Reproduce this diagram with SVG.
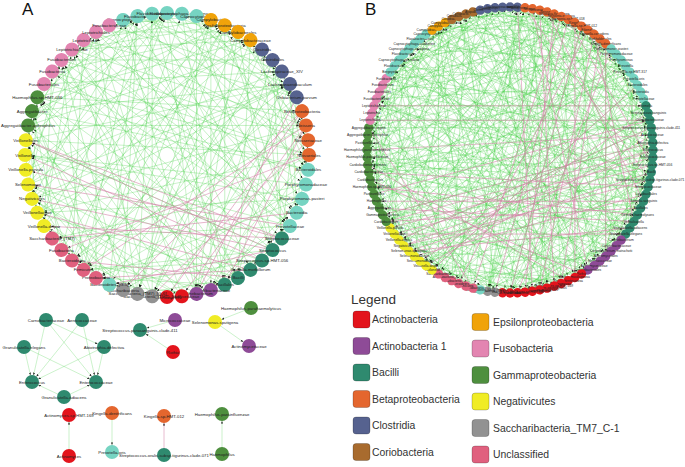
<svg xmlns="http://www.w3.org/2000/svg" xmlns:xlink="http://www.w3.org/1999/xlink" width="685" height="467" viewBox="0 0 685 467">
<style>
text{font-family:"Liberation Sans",Arial,sans-serif;fill:#222}
.A text,.S text{font-size:4.3px;text-anchor:middle;dominant-baseline:central}
.B text{font-size:3.3px;text-anchor:middle;dominant-baseline:central}
.ttl{font-size:17px;fill:#111}
.lg text{font-size:10.4px;fill:#333;dominant-baseline:central}
.lg .lt{font-size:13.5px}
.lg rect{stroke:#0000004d;stroke-width:.7}
.ac{fill:#e3141c}.a1{fill:#8e4b97}.ba{fill:#2f8a6f}.be{fill:#e4662e}.cl{fill:#56628f}.co{fill:#a86b2e}
.ep{fill:#f0a30a}.fu{fill:#e385b1}.ga{fill:#4e8f3e}.ne{fill:#f0ec25}.sa{fill:#929292}.un{fill:#e0607e}.bt{fill:#76d4c2}
.gr{stroke:#3fcf3f;stroke-opacity:.45;stroke-width:.6;fill:none}
.pk{stroke:#d47fa6;stroke-opacity:.75;stroke-width:.7;fill:none}
</style>
<defs>
<marker id="ar" markerUnits="userSpaceOnUse" markerWidth="4" markerHeight="3" refX="9.6" refY="1" orient="auto"><path d="M0 0L2.6 1L0 2z" fill="#1a1a1a"/></marker>
<marker id="arb" markerUnits="userSpaceOnUse" markerWidth="4" markerHeight="3" refX="7.6" refY=".85" orient="auto"><path d="M0 0L2.2 .85L0 1.7z" fill="#1a1a1a"/></marker>
<line id="s6" y1="-142" x2="14.84" y2="-141.22"/>
<line id="s12" y1="-142" x2="29.52" y2="-138.9"/>
<line id="s18" y1="-142" x2="43.88" y2="-135.05"/>
<line id="s24" y1="-142" x2="57.76" y2="-129.72"/>
<line id="s30" y1="-142" x2="71" y2="-122.98"/>
<line id="s36" y1="-142" x2="83.47" y2="-114.88"/>
<line id="s42" y1="-142" x2="95.02" y2="-105.53"/>
<line id="s48" y1="-142" x2="105.53" y2="-95.02"/>
<line id="s54" y1="-142" x2="114.88" y2="-83.47"/>
<line id="s60" y1="-142" x2="122.98" y2="-71"/>
<line id="s66" y1="-142" x2="129.72" y2="-57.76"/>
<line id="s72" y1="-142" x2="135.05" y2="-43.88"/>
<line id="s78" y1="-142" x2="138.9" y2="-29.52"/>
<line id="s84" y1="-142" x2="141.22" y2="-14.84"/>
<line id="s90" y1="-142" x2="142" y2="0"/>
<line id="s96" y1="-142" x2="141.22" y2="14.84"/>
<line id="s102" y1="-142" x2="138.9" y2="29.52"/>
<line id="s108" y1="-142" x2="135.05" y2="43.88"/>
<line id="s114" y1="-142" x2="129.72" y2="57.76"/>
<line id="s120" y1="-142" x2="122.98" y2="71"/>
<line id="s126" y1="-142" x2="114.88" y2="83.47"/>
<line id="s132" y1="-142" x2="105.53" y2="95.02"/>
<line id="s138" y1="-142" x2="95.02" y2="105.53"/>
<line id="s144" y1="-142" x2="83.47" y2="114.88"/>
<line id="s150" y1="-142" x2="71" y2="122.98"/>
<line id="s156" y1="-142" x2="57.76" y2="129.72"/>
<line id="s162" y1="-142" x2="43.88" y2="135.05"/>
<line id="s168" y1="-142" x2="29.52" y2="138.9"/>
<line id="s171" y1="-142" x2="22.21" y2="140.25"/>
<line id="s174" y1="-142" x2="14.84" y2="141.22"/>
<line id="s177" y1="-142" x2="7.43" y2="141.81"/>
<g id="GA"><use href="#s42"/><use href="#s96"/><use href="#s132"/><use href="#s168"/></g>
<g id="GB"><use href="#s24"/><use href="#s60"/><use href="#s114"/><use href="#s150"/></g>
<g id="GC"><use href="#s78"/><use href="#s120"/><use href="#s156"/><use href="#s66"/></g>
<g id="GD"><use href="#s36"/><use href="#s84"/><use href="#s144"/><use href="#s174"/></g>
<g id="GE"><use href="#s54"/><use href="#s102"/><use href="#s138"/><use href="#s162"/></g>
</defs>
<rect width="685" height="467" fill="#fff"/>
<text class="ttl" x="22" y="15">A</text>
<text class="ttl" x="365" y="15">B</text>

<g id="connectors">
<g id="edgesA" transform="translate(167 155)">
<g class="gr" marker-end="url(#ar)">
<use href="#GA" transform="rotate(0)"/><use href="#GA" transform="rotate(24)"/><use href="#GA" transform="rotate(54)"/><use href="#GA" transform="rotate(102)"/><use href="#GA" transform="rotate(150)"/><use href="#GA" transform="rotate(186)"/><use href="#GA" transform="rotate(216)"/><use href="#GA" transform="rotate(252)"/><use href="#GA" transform="rotate(288)"/><use href="#GA" transform="rotate(312)"/><use href="#GA" transform="rotate(342)"/>
<use href="#GB" transform="rotate(6)"/><use href="#GB" transform="rotate(36)"/><use href="#GB" transform="rotate(66)"/><use href="#GB" transform="rotate(120)"/><use href="#GB" transform="rotate(162)"/><use href="#GB" transform="rotate(198)"/><use href="#GB" transform="rotate(228)"/><use href="#GB" transform="rotate(264)"/><use href="#GB" transform="rotate(300)"/><use href="#GB" transform="rotate(330)"/>
<use href="#GC" transform="rotate(12)"/><use href="#GC" transform="rotate(48)"/><use href="#GC" transform="rotate(90)"/><use href="#GC" transform="rotate(138)"/><use href="#GC" transform="rotate(174)"/><use href="#GC" transform="rotate(210)"/><use href="#GC" transform="rotate(240)"/><use href="#GC" transform="rotate(282)"/><use href="#GC" transform="rotate(318)"/><use href="#GC" transform="rotate(348)"/>
<use href="#GD" transform="rotate(18)"/><use href="#GD" transform="rotate(42)"/><use href="#GD" transform="rotate(78)"/><use href="#GD" transform="rotate(132)"/><use href="#GD" transform="rotate(168)"/><use href="#GD" transform="rotate(204)"/><use href="#GD" transform="rotate(246)"/><use href="#GD" transform="rotate(276)"/><use href="#GD" transform="rotate(306)"/><use href="#GD" transform="rotate(336)"/>
<use href="#GE" transform="rotate(30)"/><use href="#GE" transform="rotate(60)"/><use href="#GE" transform="rotate(108)"/><use href="#GE" transform="rotate(156)"/><use href="#GE" transform="rotate(192)"/><use href="#GE" transform="rotate(222)"/><use href="#GE" transform="rotate(258)"/><use href="#GE" transform="rotate(294)"/><use href="#GE" transform="rotate(324)"/><use href="#GE" transform="rotate(354)"/>
</g>
<g class="pk" marker-end="url(#ar)">
<use href="#s150" transform="rotate(126)"/><use href="#s144" transform="rotate(132)"/><use href="#s132" transform="rotate(138)"/><use href="#s138" transform="rotate(126)"/><use href="#s138" transform="rotate(120)"/><use href="#s120" transform="rotate(132)"/><use href="#s102" transform="rotate(144)"/><use href="#s114" transform="rotate(126)"/><use href="#s120" transform="rotate(114)"/><use href="#s108" transform="rotate(72)"/><use href="#s96" transform="rotate(78)"/><use href="#s102" transform="rotate(84)"/><use href="#s126" transform="rotate(72)"/><use href="#s138" transform="rotate(78)"/><use href="#s138" transform="rotate(90)"/><use href="#s102" transform="rotate(66)"/><use href="#s66" transform="rotate(144)"/><use href="#s72" transform="rotate(150)"/><use href="#s72" transform="rotate(132)"/><use href="#s78" transform="rotate(78)"/>
</g>
</g>

<g id="edgesB" transform="translate(510 150) scale(1.007)">
<g class="gr" marker-end="url(#arb)">
<use href="#GA" transform="rotate(0)"/><use href="#GA" transform="rotate(21)"/><use href="#GA" transform="rotate(48)"/><use href="#GA" transform="rotate(72)"/><use href="#GA" transform="rotate(99)"/><use href="#GA" transform="rotate(123)"/><use href="#GA" transform="rotate(147)"/><use href="#GA" transform="rotate(171)"/><use href="#GA" transform="rotate(195)"/><use href="#GA" transform="rotate(216)"/><use href="#GA" transform="rotate(243)"/><use href="#GA" transform="rotate(267)"/><use href="#GA" transform="rotate(291)"/><use href="#GA" transform="rotate(315)"/><use href="#GA" transform="rotate(339)"/><use href="#GA" transform="rotate(12)"/><use href="#GA" transform="rotate(42)"/><use href="#GA" transform="rotate(93)"/><use href="#GA" transform="rotate(144)"/><use href="#GA" transform="rotate(198)"/><use href="#GA" transform="rotate(249)"/><use href="#GA" transform="rotate(297)"/><use href="#GA" transform="rotate(318)"/><use href="#GA" transform="rotate(345)"/>
<use href="#GB" transform="rotate(6)"/><use href="#GB" transform="rotate(30)"/><use href="#GB" transform="rotate(57)"/><use href="#GB" transform="rotate(81)"/><use href="#GB" transform="rotate(105)"/><use href="#GB" transform="rotate(132)"/><use href="#GB" transform="rotate(153)"/><use href="#GB" transform="rotate(180)"/><use href="#GB" transform="rotate(201)"/><use href="#GB" transform="rotate(228)"/><use href="#GB" transform="rotate(252)"/><use href="#GB" transform="rotate(276)"/><use href="#GB" transform="rotate(300)"/><use href="#GB" transform="rotate(324)"/><use href="#GB" transform="rotate(348)"/><use href="#GB" transform="rotate(18)"/><use href="#GB" transform="rotate(63)"/><use href="#GB" transform="rotate(114)"/><use href="#GB" transform="rotate(159)"/><use href="#GB" transform="rotate(222)"/><use href="#GB" transform="rotate(270)"/><use href="#GB" transform="rotate(294)"/><use href="#GB" transform="rotate(342)"/>
<use href="#GC" transform="rotate(9)"/><use href="#GC" transform="rotate(33)"/><use href="#GC" transform="rotate(60)"/><use href="#GC" transform="rotate(87)"/><use href="#GC" transform="rotate(111)"/><use href="#GC" transform="rotate(135)"/><use href="#GC" transform="rotate(162)"/><use href="#GC" transform="rotate(186)"/><use href="#GC" transform="rotate(210)"/><use href="#GC" transform="rotate(234)"/><use href="#GC" transform="rotate(258)"/><use href="#GC" transform="rotate(282)"/><use href="#GC" transform="rotate(306)"/><use href="#GC" transform="rotate(330)"/><use href="#GC" transform="rotate(354)"/>
<use href="#GD" transform="rotate(15)"/><use href="#GD" transform="rotate(39)"/><use href="#GD" transform="rotate(66)"/><use href="#GD" transform="rotate(90)"/><use href="#GD" transform="rotate(117)"/><use href="#GD" transform="rotate(141)"/><use href="#GD" transform="rotate(165)"/><use href="#GD" transform="rotate(189)"/><use href="#GD" transform="rotate(219)"/><use href="#GD" transform="rotate(240)"/><use href="#GD" transform="rotate(264)"/><use href="#GD" transform="rotate(288)"/><use href="#GD" transform="rotate(309)"/><use href="#GD" transform="rotate(333)"/><use href="#GD" transform="rotate(357)"/>
<use href="#GE" transform="rotate(3)"/><use href="#GE" transform="rotate(27)"/><use href="#GE" transform="rotate(51)"/><use href="#GE" transform="rotate(78)"/><use href="#GE" transform="rotate(102)"/><use href="#GE" transform="rotate(126)"/><use href="#GE" transform="rotate(156)"/><use href="#GE" transform="rotate(177)"/><use href="#GE" transform="rotate(204)"/><use href="#GE" transform="rotate(231)"/><use href="#GE" transform="rotate(255)"/><use href="#GE" transform="rotate(279)"/><use href="#GE" transform="rotate(303)"/><use href="#GE" transform="rotate(327)"/><use href="#GE" transform="rotate(351)"/>
<use href="#s177" transform="rotate(12)"/><use href="#s177" transform="rotate(72)"/><use href="#s177" transform="rotate(132)"/><use href="#s177" transform="rotate(201)"/><use href="#s177" transform="rotate(261)"/><use href="#s177" transform="rotate(321)"/>
<use href="#s171" transform="rotate(39)"/><use href="#s171" transform="rotate(102)"/><use href="#s171" transform="rotate(159)"/><use href="#s171" transform="rotate(228)"/><use href="#s171" transform="rotate(288)"/><use href="#s171" transform="rotate(348)"/>
</g>
<g class="pk" marker-end="url(#arb)">
<use href="#s150" transform="rotate(90)"/><use href="#s138" transform="rotate(96)"/><use href="#s126" transform="rotate(102)"/><use href="#s114" transform="rotate(108)"/><use href="#s144" transform="rotate(75)"/><use href="#s150" transform="rotate(81)"/><use href="#s156" transform="rotate(87)"/><use href="#s138" transform="rotate(111)"/><use href="#s138" transform="rotate(117)"/><use href="#s126" transform="rotate(99)"/><use href="#s132" transform="rotate(84)"/><use href="#s144" transform="rotate(93)"/><use href="#s126" transform="rotate(120)"/><use href="#s156" transform="rotate(105)"/><use href="#s174" transform="rotate(78)"/>
<use href="#s150" transform="rotate(12)"/><use href="#s156" transform="rotate(18)"/><use href="#s162" transform="rotate(24)"/><use href="#s150" transform="rotate(30)"/><use href="#s132" transform="rotate(36)"/><use href="#s174" transform="rotate(21)"/><use href="#s126" transform="rotate(27)"/><use href="#s168" transform="rotate(33)"/><use href="#s120" transform="rotate(39)"/>
<use href="#s96" transform="rotate(15)"/><use href="#s72" transform="rotate(24)"/><use href="#s84" transform="rotate(36)"/><use href="#s96" transform="rotate(42)"/><use href="#s96" transform="rotate(6)"/>
<use href="#s108" transform="rotate(150)"/><use href="#s108" transform="rotate(156)"/><use href="#s84" transform="rotate(195)"/>
<use href="#s144" transform="rotate(288)"/><use href="#s174" transform="rotate(270)"/><use href="#s156" transform="rotate(282)"/>
<use href="#s126" transform="rotate(114)"/><use href="#s102" transform="rotate(123)"/><use href="#s108" transform="rotate(126)"/><use href="#s138" transform="rotate(90)"/><use href="#s168" transform="rotate(3)"/><use href="#s138" transform="rotate(9)"/><use href="#s132" transform="rotate(45)"/><use href="#s150" transform="rotate(63)"/>
</g>
</g>

<g id="edgesS" marker-end="url(#ar)">
<g class="gr" stroke-opacity=".8">
<line x1="46" y1="320" x2="104" y2="347"/><line x1="46" y1="320" x2="96" y2="382"/><line x1="46" y1="320" x2="32" y2="382"/>
<line x1="82" y1="320" x2="32" y2="382"/><line x1="82" y1="320" x2="96" y2="382"/>
<line x1="24" y1="347" x2="32" y2="382"/><line x1="24" y1="347" x2="96" y2="382"/>
<line x1="104" y1="347" x2="32" y2="382"/><line x1="104" y1="347" x2="96" y2="382"/>
<line x1="64" y1="397" x2="32" y2="382"/><line x1="64" y1="397" x2="96" y2="382"/>
<line x1="175" y1="320" x2="140" y2="330"/><line x1="173" y1="352" x2="140" y2="330"/>
<line x1="251" y1="308" x2="215" y2="322"/><line x1="215" y1="322" x2="249" y2="346"/>
<line x1="69" y1="456" x2="69" y2="415"/><line x1="112" y1="413" x2="112" y2="452"/>
<line x1="222" y1="454" x2="222" y2="414"/>
</g>
<line class="pk" x1="164" y1="455" x2="164" y2="416"/>
</g>
</g>

<g id="nodesA" class="A">
<g id="a342" transform="rotate(342 167 155)"><circle class="bt" cx="167" cy="13" r="7"/><text transform="translate(167 13)rotate(-342)">Capnocytophaga</text></g>
<g id="a348" transform="rotate(348 167 155)"><circle class="bt" cx="167" cy="13" r="7"/><text transform="translate(167 13)rotate(-348)">Flavobacteriia</text></g>
<g id="a354" transform="rotate(354 167 155)"><circle class="bt" cx="167" cy="13" r="7"/><text transform="translate(167 13)rotate(-354)">Flavobacteriales</text></g>
<g id="a0"><circle class="bt" cx="167" cy="13" r="7"/><text transform="translate(167 13)">Flavobacteriaceae</text></g>
<g id="a6" transform="rotate(6 167 155)"><circle class="bt" cx="167" cy="13" r="7"/><text transform="translate(167 13)rotate(-6)">Capnocytophaga-sputigena</text></g>
<g id="a12" transform="rotate(12 167 155)"><circle class="bt" cx="167" cy="13" r="7"/><text transform="translate(167 13)rotate(-12)">Capnocytophaga</text></g>
<g id="a18" transform="rotate(18 167 155)"><circle class="ep" cx="167" cy="13" r="7"/><text transform="translate(167 13)rotate(-18)">Campylobacter</text></g>
<g id="a24" transform="rotate(24 167 155)"><circle class="ep" cx="167" cy="13" r="7"/><text transform="translate(167 13)rotate(-24)">Epsilonproteobacteria</text></g>
<g id="a30" transform="rotate(30 167 155)"><circle class="ep" cx="167" cy="13" r="7"/><text transform="translate(167 13)rotate(-30)">Campylobacterales</text></g>
<g id="a36" transform="rotate(36 167 155)"><circle class="ep" cx="167" cy="13" r="7"/><text transform="translate(167 13)rotate(-36)">Campylobacteraceae</text></g>
<g id="a42" transform="rotate(42 167 155)"><circle class="cl" cx="167" cy="13" r="7"/><text transform="translate(167 13)rotate(-42)">Clostridia</text></g>
<g id="a48" transform="rotate(48 167 155)"><circle class="cl" cx="167" cy="13" r="7"/><text transform="translate(167 13)rotate(-48)">Clostridiales</text></g>
<g id="a54" transform="rotate(54 167 155)"><circle class="cl" cx="167" cy="13" r="7"/><text transform="translate(167 13)rotate(-54)">Lachnospiraceae_XIV</text></g>
<g id="a60" transform="rotate(60 167 155)"><circle class="cl" cx="167" cy="13" r="7"/><text transform="translate(167 13)rotate(-60)">Lachnoanaerobaculum</text></g>
<g id="a66" transform="rotate(66 167 155)"><circle class="cl" cx="167" cy="13" r="7"/><text transform="translate(167 13)rotate(-66)">Oribacterium-parvum</text></g>
<g id="a72" transform="rotate(72 167 155)"><circle class="be" cx="167" cy="13" r="7"/><text transform="translate(167 13)rotate(-72)">Betaproteobacteria</text></g>
<g id="a78" transform="rotate(78 167 155)"><circle class="be" cx="167" cy="13" r="7"/><text transform="translate(167 13)rotate(-78)">Neisseria</text></g>
<g id="a84" transform="rotate(84 167 155)"><circle class="be" cx="167" cy="13" r="7"/><text transform="translate(167 13)rotate(-84)">Neisseriaceae</text></g>
<g id="a90" transform="rotate(90 167 155)"><circle class="be" cx="167" cy="13" r="7"/><text transform="translate(167 13)rotate(-90)">Neisseriales</text></g>
<g id="a96" transform="rotate(96 167 155)"><circle class="bt" cx="167" cy="13" r="7"/><text transform="translate(167 13)rotate(-96)">Bacteroidales</text></g>
<g id="a102" transform="rotate(102 167 155)"><circle class="bt" cx="167" cy="13" r="7"/><text transform="translate(167 13)rotate(-102)">Porphyromonadaceae</text></g>
<g id="a108" transform="rotate(108 167 155)"><circle class="bt" cx="167" cy="13" r="7"/><text transform="translate(167 13)rotate(-108)">Porphyromonas-pasteri</text></g>
<g id="a114" transform="rotate(114 167 155)"><circle class="bt" cx="167" cy="13" r="7"/><text transform="translate(167 13)rotate(-114)">Bacteroidia</text></g>
<g id="a120" transform="rotate(120 167 155)"><circle class="bt" cx="167" cy="13" r="7"/><text transform="translate(167 13)rotate(-120)">Prevotellaceae</text></g>
<g id="a126" transform="rotate(126 167 155)"><circle class="ba" cx="167" cy="13" r="7"/><text transform="translate(167 13)rotate(-126)">Streptococcaceae</text></g>
<g id="a132" transform="rotate(132 167 155)"><circle class="ba" cx="167" cy="13" r="7"/><text transform="translate(167 13)rotate(-132)">Streptococcus</text></g>
<g id="a138" transform="rotate(138 167 155)"><circle class="ba" cx="167" cy="13" r="7"/><text transform="translate(167 13)rotate(-138)">Streptococcus-sp-HMT-056</text></g>
<g id="a144" transform="rotate(144 167 155)"><circle class="ba" cx="167" cy="13" r="7"/><text transform="translate(167 13)rotate(-144)">Gemella-morbillorum</text></g>
<g id="a150" transform="rotate(150 167 155)"><circle class="ba" cx="167" cy="13" r="7"/><text transform="translate(167 13)rotate(-150)">Bacilli</text></g>
<g id="a156" transform="rotate(156 167 155)"><circle class="ba" cx="167" cy="13" r="7"/><text transform="translate(167 13)rotate(-156)">Bacillales</text></g>
<g id="a162" transform="rotate(162 167 155)"><circle class="a1" cx="167" cy="13" r="7"/><text transform="translate(167 13)rotate(-162)">Corynebacteriaceae</text></g>
<g id="a168" transform="rotate(168 167 155)"><circle class="a1" cx="167" cy="13" r="7"/><text transform="translate(167 13)rotate(-168)">Corynebacterium</text></g>
<g id="a174" transform="rotate(174 167 155)"><circle class="ac" cx="167" cy="13" r="7"/><text transform="translate(167 13)rotate(-174)">Actinomycetaceae</text></g>
<g id="a180" transform="rotate(180 167 155)"><circle class="ac" cx="167" cy="13" r="7"/><text transform="translate(167 13)rotate(-180)">Actinomyces</text></g>
<g id="a186" transform="rotate(186 167 155)"><circle class="sa" cx="167" cy="13" r="7"/><text transform="translate(167 13)rotate(-186)">Saccharibacteria_(TM7)_[G-1]</text></g>
<g id="a192" transform="rotate(192 167 155)"><circle class="sa" cx="167" cy="13" r="7"/><text transform="translate(167 13)rotate(-192)">Saccharibacteria_(TM7)_[G-6]</text></g>
<g id="a198" transform="rotate(198 167 155)"><circle class="sa" cx="167" cy="13" r="7"/><text transform="translate(167 13)rotate(-198)">Saccharibacteria</text></g>
<g id="a204" transform="rotate(204 167 155)"><circle class="bt" cx="167" cy="13" r="7"/><text transform="translate(167 13)rotate(-204)">Bacteroidetes_[G-5]</text></g>
<g id="a210" transform="rotate(210 167 155)"><circle class="un" cx="167" cy="13" r="7"/><text transform="translate(167 13)rotate(-210)">Proteobacteria</text></g>
<g id="a216" transform="rotate(216 167 155)"><circle class="un" cx="167" cy="13" r="7"/><text transform="translate(167 13)rotate(-216)">Firmicutes</text></g>
<g id="a222" transform="rotate(222 167 155)"><circle class="un" cx="167" cy="13" r="7"/><text transform="translate(167 13)rotate(-222)">Bacteroidetes</text></g>
<g id="a228" transform="rotate(228 167 155)"><circle class="un" cx="167" cy="13" r="7"/><text transform="translate(167 13)rotate(-228)">Fusobacteria</text></g>
<g id="a234" transform="rotate(234 167 155)"><circle class="un" cx="167" cy="13" r="7"/><text transform="translate(167 13)rotate(-234)">Saccharibacteria_(TM7)</text></g>
<g id="a240" transform="rotate(240 167 155)"><circle class="ne" cx="167" cy="13" r="7"/><text transform="translate(167 13)rotate(-240)">Veillonella-dispar</text></g>
<g id="a246" transform="rotate(246 167 155)"><circle class="ne" cx="167" cy="13" r="7"/><text transform="translate(167 13)rotate(-246)">Veillonellaceae</text></g>
<g id="a252" transform="rotate(252 167 155)"><circle class="ne" cx="167" cy="13" r="7"/><text transform="translate(167 13)rotate(-252)">Negativicutes</text></g>
<g id="a258" transform="rotate(258 167 155)"><circle class="ne" cx="167" cy="13" r="7"/><text transform="translate(167 13)rotate(-258)">Selenomonas</text></g>
<g id="a264" transform="rotate(264 167 155)"><circle class="ne" cx="167" cy="13" r="7"/><text transform="translate(167 13)rotate(-264)">Veillonella-parvula</text></g>
<g id="a270" transform="rotate(270 167 155)"><circle class="ne" cx="167" cy="13" r="7"/><text transform="translate(167 13)rotate(-270)">Veillonella</text></g>
<g id="a276" transform="rotate(276 167 155)"><circle class="ne" cx="167" cy="13" r="7"/><text transform="translate(167 13)rotate(-276)">Veillonellales</text></g>
<g id="a282" transform="rotate(282 167 155)"><circle class="ga" cx="167" cy="13" r="7"/><text transform="translate(167 13)rotate(-282)">Aggregatibacter-aphrophilus</text></g>
<g id="a288" transform="rotate(288 167 155)"><circle class="ga" cx="167" cy="13" r="7"/><text transform="translate(167 13)rotate(-288)">Aggregatibacter</text></g>
<g id="a294" transform="rotate(294 167 155)"><circle class="ga" cx="167" cy="13" r="7"/><text transform="translate(167 13)rotate(-294)">Haemophilus-sp-HMT-036</text></g>
<g id="a300" transform="rotate(300 167 155)"><circle class="fu" cx="167" cy="13" r="7"/><text transform="translate(167 13)rotate(-300)">Fusobacteriales</text></g>
<g id="a306" transform="rotate(306 167 155)"><circle class="fu" cx="167" cy="13" r="7"/><text transform="translate(167 13)rotate(-306)">Fusobacteriia</text></g>
<g id="a312" transform="rotate(312 167 155)"><circle class="fu" cx="167" cy="13" r="7"/><text transform="translate(167 13)rotate(-312)">Fusobacterium</text></g>
<g id="a318" transform="rotate(318 167 155)"><circle class="fu" cx="167" cy="13" r="7"/><text transform="translate(167 13)rotate(-318)">Leptotrichiaceae</text></g>
<g id="a324" transform="rotate(324 167 155)"><circle class="fu" cx="167" cy="13" r="7"/><text transform="translate(167 13)rotate(-324)">Leptotrichia</text></g>
<g id="a330" transform="rotate(330 167 155)"><circle class="fu" cx="167" cy="13" r="7"/><text transform="translate(167 13)rotate(-330)">Leptotrichiales</text></g>
<g id="a336" transform="rotate(336 167 155)"><circle class="fu" cx="167" cy="13" r="7"/><text transform="translate(167 13)rotate(-336)">Fusobacteriaceae</text></g>
</g>

<g id="nodesS" class="S">
<g id="s-carno"><circle class="ba" cx="46" cy="320" r="7"/><text x="46" y="320">Carnobacteriaceae</text></g>
<g id="s-aero"><circle class="ba" cx="82" cy="320" r="7"/><text x="82" y="320">Aerococcaceae</text></g>
<g id="s-gele"><circle class="ba" cx="24" cy="347" r="7"/><text x="24" y="347">Granulicatella-elegans</text></g>
<g id="s-abio"><circle class="ba" cx="104" cy="347" r="7"/><text x="104" y="347">Abiotrophia-defectiva</text></g>
<g id="s-entc"><circle class="ba" cx="32" cy="382" r="7"/><text x="32" y="382">Enterococcus</text></g>
<g id="s-entf"><circle class="ba" cx="96" cy="382" r="7"/><text x="96" y="382">Enterococcaceae</text></g>
<g id="s-gadi"><circle class="ba" cx="64" cy="397" r="7"/><text x="64" y="397">Granulicatella-adiacens</text></g>
<g id="s-spar"><circle class="ba" cx="140" cy="330" r="7"/><text x="140" y="330">Streptococcus-parasanguinis-clade-411</text></g>
<g id="s-micr"><circle class="a1" cx="175" cy="320" r="7"/><text x="175" y="320">Micrococcaceae</text></g>
<g id="s-roth"><circle class="ac" cx="173" cy="352" r="7"/><text x="173" y="352">Rothia</text></g>
<g id="s-hpar"><circle class="ga" cx="251" cy="308" r="7"/><text x="251" y="308">Haemophilus-parahaemolyticus</text></g>
<g id="s-sels"><circle class="ne" cx="215" cy="322" r="7"/><text x="215" y="322">Selenomonas-sputigena</text></g>
<g id="s-actf"><circle class="a1" cx="249" cy="346" r="7"/><text x="249" y="346">Actinomycetaceae</text></g>
<g id="s-a169"><circle class="ac" cx="69" cy="415" r="7"/><text x="69" y="415">Actinomyces-sp-HMT-169</text></g>
<g id="s-acty"><circle class="ac" cx="69" cy="456" r="7"/><text x="69" y="456">Actinomyces</text></g>
<g id="s-kden"><circle class="be" cx="112" cy="413" r="7"/><text x="112" y="413">Kingella-denitrificans</text></g>
<g id="s-pori"><circle class="bt" cx="112" cy="452" r="7"/><text x="112" y="452">Prevotella-oris</text></g>
<g id="s-k012"><circle class="be" cx="164" cy="416" r="7"/><text x="164" y="416">Kingella-sp-HMT-012</text></g>
<g id="s-sora"><circle class="ba" cx="164" cy="455" r="7"/><text x="164" y="455">Streptococcus-oralis-subsp-tigurinus-clade-071</text></g>
<g id="s-hpin"><circle class="ga" cx="222" cy="414" r="7"/><text x="222" y="414">Haemophilus-parainfluenzae</text></g>
<g id="s-haem"><circle class="ga" cx="222" cy="454" r="7"/><text x="222" y="454">Haemophilus</text></g>
</g>

<g id="nodesB" class="B">
<g id="b0"><circle class="cl" cx="510" cy="7" r="4.7"/><text transform="translate(510 7)">Lachnoanaerobaculum</text></g>
<g id="b3" transform="rotate(3 510 150)"><circle class="cl" cx="510" cy="7" r="4.7"/><text transform="translate(510 7)rotate(-3)">Oribacterium-parvum</text></g>
<g id="b6" transform="rotate(6 510 150)"><circle class="be" cx="510" cy="7" r="4.7"/><text transform="translate(510 7)rotate(-6)">Betaproteobacteria</text></g>
<g id="b9" transform="rotate(9 510 150)"><circle class="be" cx="510" cy="7" r="4.7"/><text transform="translate(510 7)rotate(-9)">Neisseriales</text></g>
<g id="b12" transform="rotate(12 510 150)"><circle class="be" cx="510" cy="7" r="4.7"/><text transform="translate(510 7)rotate(-12)">Neisseriaceae</text></g>
<g id="b15" transform="rotate(15 510 150)"><circle class="be" cx="510" cy="7" r="4.7"/><text transform="translate(510 7)rotate(-15)">Neisseria</text></g>
<g id="b18" transform="rotate(18 510 150)"><circle class="be" cx="510" cy="7" r="4.7"/><text transform="translate(510 7)rotate(-18)">Neisseria-flavescens</text></g>
<g id="b21" transform="rotate(21 510 150)"><circle class="be" cx="510" cy="7" r="4.7"/><text transform="translate(510 7)rotate(-21)">Neisseria-subflava</text></g>
<g id="b24" transform="rotate(24 510 150)"><circle class="be" cx="510" cy="7" r="4.7"/><text transform="translate(510 7)rotate(-24)">Neisseria-sp-HMT-018</text></g>
<g id="b27" transform="rotate(27 510 150)"><circle class="be" cx="510" cy="7" r="4.7"/><text transform="translate(510 7)rotate(-27)">Kingella</text></g>
<g id="b30" transform="rotate(30 510 150)"><circle class="be" cx="510" cy="7" r="4.7"/><text transform="translate(510 7)rotate(-30)">Kingella-sp-HMT-012</text></g>
<g id="b33" transform="rotate(33 510 150)"><circle class="be" cx="510" cy="7" r="4.7"/><text transform="translate(510 7)rotate(-33)">Eikenella</text></g>
<g id="b36" transform="rotate(36 510 150)"><circle class="be" cx="510" cy="7" r="4.7"/><text transform="translate(510 7)rotate(-36)">Eikenella-corrodens</text></g>
<g id="b39" transform="rotate(39 510 150)"><circle class="be" cx="510" cy="7" r="4.7"/><text transform="translate(510 7)rotate(-39)">Burkholderiales</text></g>
<g id="b42" transform="rotate(42 510 150)"><circle class="be" cx="510" cy="7" r="4.7"/><text transform="translate(510 7)rotate(-42)">Kingella-denitrificans</text></g>
<g id="b45" transform="rotate(45 510 150)"><circle class="bt" cx="510" cy="7" r="4.7"/><text transform="translate(510 7)rotate(-45)">Porphyromonas-pasteri</text></g>
<g id="b48" transform="rotate(48 510 150)"><circle class="bt" cx="510" cy="7" r="4.7"/><text transform="translate(510 7)rotate(-48)">Porphyromonadaceae</text></g>
<g id="b51" transform="rotate(51 510 150)"><circle class="bt" cx="510" cy="7" r="4.7"/><text transform="translate(510 7)rotate(-51)">Porphyromonas</text></g>
<g id="b54" transform="rotate(54 510 150)"><circle class="bt" cx="510" cy="7" r="4.7"/><text transform="translate(510 7)rotate(-54)">Prevotella</text></g>
<g id="b57" transform="rotate(57 510 150)"><circle class="bt" cx="510" cy="7" r="4.7"/><text transform="translate(510 7)rotate(-57)">Prevotella-sp-HMT-317</text></g>
<g id="b60" transform="rotate(60 510 150)"><circle class="bt" cx="510" cy="7" r="4.7"/><text transform="translate(510 7)rotate(-60)">Prevotella-oris</text></g>
<g id="b63" transform="rotate(63 510 150)"><circle class="bt" cx="510" cy="7" r="4.7"/><text transform="translate(510 7)rotate(-63)">Bacteroidales</text></g>
<g id="b66" transform="rotate(66 510 150)"><circle class="bt" cx="510" cy="7" r="4.7"/><text transform="translate(510 7)rotate(-66)">Bacteroidia</text></g>
<g id="b69" transform="rotate(69 510 150)"><circle class="bt" cx="510" cy="7" r="4.7"/><text transform="translate(510 7)rotate(-69)">Prevotellaceae</text></g>
<g id="b72" transform="rotate(72 510 150)"><circle class="ba" cx="510" cy="7" r="4.7"/><text transform="translate(510 7)rotate(-72)">Gemella</text></g>
<g id="b75" transform="rotate(75 510 150)"><circle class="ba" cx="510" cy="7" r="4.7"/><text transform="translate(510 7)rotate(-75)">Streptococcus-sanguinis</text></g>
<g id="b78" transform="rotate(78 510 150)"><circle class="ba" cx="510" cy="7" r="4.7"/><text transform="translate(510 7)rotate(-78)">Carnobacteriaceae</text></g>
<g id="b81" transform="rotate(81 510 150)"><circle class="ba" cx="510" cy="7" r="4.7"/><text transform="translate(510 7)rotate(-81)">Streptococcus-parasanguinis-clade-411</text></g>
<g id="b84" transform="rotate(84 510 150)"><circle class="ba" cx="510" cy="7" r="4.7"/><text transform="translate(510 7)rotate(-84)">Aerococcaceae</text></g>
<g id="b87" transform="rotate(87 510 150)"><circle class="ba" cx="510" cy="7" r="4.7"/><text transform="translate(510 7)rotate(-87)">Abiotrophia-defectiva</text></g>
<g id="b90" transform="rotate(90 510 150)"><circle class="ba" cx="510" cy="7" r="4.7"/><text transform="translate(510 7)rotate(-90)">Enterococcus</text></g>
<g id="b93" transform="rotate(93 510 150)"><circle class="ba" cx="510" cy="7" r="4.7"/><text transform="translate(510 7)rotate(-93)">Enterococcaceae</text></g>
<g id="b96" transform="rotate(96 510 150)"><circle class="ba" cx="510" cy="7" r="4.7"/><text transform="translate(510 7)rotate(-96)">Streptococcus-sp-HMT-056</text></g>
<g id="b99" transform="rotate(99 510 150)"><circle class="ba" cx="510" cy="7" r="4.7"/><text transform="translate(510 7)rotate(-99)">Bacilli</text></g>
<g id="b102" transform="rotate(102 510 150)"><circle class="ba" cx="510" cy="7" r="4.7"/><text transform="translate(510 7)rotate(-102)">Streptococcus-oralis-subsp-tigurinus-clade-071</text></g>
<g id="b105" transform="rotate(105 510 150)"><circle class="ba" cx="510" cy="7" r="4.7"/><text transform="translate(510 7)rotate(-105)">Streptococcaceae</text></g>
<g id="b108" transform="rotate(108 510 150)"><circle class="ba" cx="510" cy="7" r="4.7"/><text transform="translate(510 7)rotate(-108)">Lactobacillales</text></g>
<g id="b111" transform="rotate(111 510 150)"><circle class="ba" cx="510" cy="7" r="4.7"/><text transform="translate(510 7)rotate(-111)">Gemella-sanguinis</text></g>
<g id="b114" transform="rotate(114 510 150)"><circle class="ba" cx="510" cy="7" r="4.7"/><text transform="translate(510 7)rotate(-114)">Bacillales</text></g>
<g id="b117" transform="rotate(117 510 150)"><circle class="ba" cx="510" cy="7" r="4.7"/><text transform="translate(510 7)rotate(-117)">Gemella-haemolysans</text></g>
<g id="b120" transform="rotate(120 510 150)"><circle class="ba" cx="510" cy="7" r="4.7"/><text transform="translate(510 7)rotate(-120)">Granulicatella</text></g>
<g id="b123" transform="rotate(123 510 150)"><circle class="ba" cx="510" cy="7" r="4.7"/><text transform="translate(510 7)rotate(-123)">Granulicatella-adiacens</text></g>
<g id="b126" transform="rotate(126 510 150)"><circle class="ba" cx="510" cy="7" r="4.7"/><text transform="translate(510 7)rotate(-126)">Granulicatella-elegans</text></g>
<g id="b129" transform="rotate(129 510 150)"><circle class="a1" cx="510" cy="7" r="4.7"/><text transform="translate(510 7)rotate(-129)">Corynebacterium</text></g>
<g id="b132" transform="rotate(132 510 150)"><circle class="a1" cx="510" cy="7" r="4.7"/><text transform="translate(510 7)rotate(-132)">Corynebacteriaceae</text></g>
<g id="b135" transform="rotate(135 510 150)"><circle class="a1" cx="510" cy="7" r="4.7"/><text transform="translate(510 7)rotate(-135)">Corynebacterium-matruchotii</text></g>
<g id="b138" transform="rotate(138 510 150)"><circle class="a1" cx="510" cy="7" r="4.7"/><text transform="translate(510 7)rotate(-138)">Actinomycetales</text></g>
<g id="b141" transform="rotate(141 510 150)"><circle class="a1" cx="510" cy="7" r="4.7"/><text transform="translate(510 7)rotate(-141)">Micrococcaceae</text></g>
<g id="b144" transform="rotate(144 510 150)"><circle class="a1" cx="510" cy="7" r="4.7"/><text transform="translate(510 7)rotate(-144)">Actinomycetaceae</text></g>
<g id="b147" transform="rotate(147 510 150)"><circle class="a1" cx="510" cy="7" r="4.7"/><text transform="translate(510 7)rotate(-147)">Corynebacteriales</text></g>
<g id="b150" transform="rotate(150 510 150)"><circle class="ac" cx="510" cy="7" r="4.7"/><text transform="translate(510 7)rotate(-150)">Rothia</text></g>
<g id="b153" transform="rotate(153 510 150)"><circle class="ac" cx="510" cy="7" r="4.7"/><text transform="translate(510 7)rotate(-153)">Rothia-mucilaginosa</text></g>
<g id="b156" transform="rotate(156 510 150)"><circle class="ac" cx="510" cy="7" r="4.7"/><text transform="translate(510 7)rotate(-156)">Rothia-dentocariosa</text></g>
<g id="b159" transform="rotate(159 510 150)"><circle class="ac" cx="510" cy="7" r="4.7"/><text transform="translate(510 7)rotate(-159)">Actinomyces</text></g>
<g id="b162" transform="rotate(162 510 150)"><circle class="ac" cx="510" cy="7" r="4.7"/><text transform="translate(510 7)rotate(-162)">Actinomyces-sp-HMT-169</text></g>
<g id="b165" transform="rotate(165 510 150)"><circle class="ac" cx="510" cy="7" r="4.7"/><text transform="translate(510 7)rotate(-165)">Actinomyces-odontolyticus</text></g>
<g id="b168" transform="rotate(168 510 150)"><circle class="ac" cx="510" cy="7" r="4.7"/><text transform="translate(510 7)rotate(-168)">Actinomyces-graevenitzii</text></g>
<g id="b171" transform="rotate(171 510 150)"><circle class="ac" cx="510" cy="7" r="4.7"/><text transform="translate(510 7)rotate(-171)">Actinomyces-massiliensis</text></g>
<g id="b174" transform="rotate(174 510 150)"><circle class="ac" cx="510" cy="7" r="4.7"/><text transform="translate(510 7)rotate(-174)">Actinomyces-sp-HMT-180</text></g>
<g id="b177" transform="rotate(177 510 150)"><circle class="ac" cx="510" cy="7" r="4.7"/><text transform="translate(510 7)rotate(-177)">Actinobacteria</text></g>
<g id="b180" transform="rotate(180 510 150)"><circle class="ac" cx="510" cy="7" r="4.7"/><text transform="translate(510 7)rotate(-180)">Micrococcales</text></g>
<g id="b183" transform="rotate(183 510 150)"><circle class="ac" cx="510" cy="7" r="4.7"/><text transform="translate(510 7)rotate(-183)">Actinomyces-sp-HMT-448</text></g>
<g id="b186" transform="rotate(186 510 150)"><circle class="sa" cx="510" cy="7" r="4.7"/><text transform="translate(510 7)rotate(-186)">Saccharibacteria_(TM7)_[G-1]</text></g>
<g id="b189" transform="rotate(189 510 150)"><circle class="sa" cx="510" cy="7" r="4.7"/><text transform="translate(510 7)rotate(-189)">Saccharibacteria_(TM7)</text></g>
<g id="b192" transform="rotate(192 510 150)"><circle class="bt" cx="510" cy="7" r="4.7"/><text transform="translate(510 7)rotate(-192)">Bacteroidetes_[G-5]</text></g>
<g id="b195" transform="rotate(195 510 150)"><circle class="un" cx="510" cy="7" r="4.7"/><text transform="translate(510 7)rotate(-195)">Proteobacteria</text></g>
<g id="b198" transform="rotate(198 510 150)"><circle class="un" cx="510" cy="7" r="4.7"/><text transform="translate(510 7)rotate(-198)">Firmicutes</text></g>
<g id="b201" transform="rotate(201 510 150)"><circle class="un" cx="510" cy="7" r="4.7"/><text transform="translate(510 7)rotate(-201)">Bacteroidetes</text></g>
<g id="b204" transform="rotate(204 510 150)"><circle class="un" cx="510" cy="7" r="4.7"/><text transform="translate(510 7)rotate(-204)">Fusobacteria</text></g>
<g id="b207" transform="rotate(207 510 150)"><circle class="un" cx="510" cy="7" r="4.7"/><text transform="translate(510 7)rotate(-207)">Actinobacteria_1</text></g>
<g id="b210" transform="rotate(210 510 150)"><circle class="un" cx="510" cy="7" r="4.7"/><text transform="translate(510 7)rotate(-210)">Saccharibacteria</text></g>
<g id="b213" transform="rotate(213 510 150)"><circle class="ne" cx="510" cy="7" r="4.7"/><text transform="translate(510 7)rotate(-213)">Veillonella</text></g>
<g id="b216" transform="rotate(216 510 150)"><circle class="ne" cx="510" cy="7" r="4.7"/><text transform="translate(510 7)rotate(-216)">Veillonella-dispar</text></g>
<g id="b219" transform="rotate(219 510 150)"><circle class="ne" cx="510" cy="7" r="4.7"/><text transform="translate(510 7)rotate(-219)">Selenomonadales</text></g>
<g id="b222" transform="rotate(222 510 150)"><circle class="ne" cx="510" cy="7" r="4.7"/><text transform="translate(510 7)rotate(-222)">Selenomonadaceae</text></g>
<g id="b225" transform="rotate(225 510 150)"><circle class="ne" cx="510" cy="7" r="4.7"/><text transform="translate(510 7)rotate(-225)">Selenomonas-sputigena</text></g>
<g id="b228" transform="rotate(228 510 150)"><circle class="ne" cx="510" cy="7" r="4.7"/><text transform="translate(510 7)rotate(-228)">Negativicutes</text></g>
<g id="b231" transform="rotate(231 510 150)"><circle class="ne" cx="510" cy="7" r="4.7"/><text transform="translate(510 7)rotate(-231)">Veillonella-atypica</text></g>
<g id="b234" transform="rotate(234 510 150)"><circle class="ne" cx="510" cy="7" r="4.7"/><text transform="translate(510 7)rotate(-234)">Veillonellaceae</text></g>
<g id="b237" transform="rotate(237 510 150)"><circle class="ne" cx="510" cy="7" r="4.7"/><text transform="translate(510 7)rotate(-237)">Veillonella-parvula</text></g>
<g id="b240" transform="rotate(240 510 150)"><circle class="ga" cx="510" cy="7" r="4.7"/><text transform="translate(510 7)rotate(-240)">Cardiobacterium</text></g>
<g id="b243" transform="rotate(243 510 150)"><circle class="ga" cx="510" cy="7" r="4.7"/><text transform="translate(510 7)rotate(-243)">Gammaproteobacteria</text></g>
<g id="b246" transform="rotate(246 510 150)"><circle class="ga" cx="510" cy="7" r="4.7"/><text transform="translate(510 7)rotate(-246)">Aggregatibacter</text></g>
<g id="b249" transform="rotate(249 510 150)"><circle class="ga" cx="510" cy="7" r="4.7"/><text transform="translate(510 7)rotate(-249)">Haemophilus</text></g>
<g id="b252" transform="rotate(252 510 150)"><circle class="ga" cx="510" cy="7" r="4.7"/><text transform="translate(510 7)rotate(-252)">Pasteurellales</text></g>
<g id="b255" transform="rotate(255 510 150)"><circle class="ga" cx="510" cy="7" r="4.7"/><text transform="translate(510 7)rotate(-255)">Haemophilus-sp-HMT-036</text></g>
<g id="b258" transform="rotate(258 510 150)"><circle class="ga" cx="510" cy="7" r="4.7"/><text transform="translate(510 7)rotate(-258)">Cardiobacteriales</text></g>
<g id="b261" transform="rotate(261 510 150)"><circle class="ga" cx="510" cy="7" r="4.7"/><text transform="translate(510 7)rotate(-261)">Cardiobacteriaceae</text></g>
<g id="b264" transform="rotate(264 510 150)"><circle class="ga" cx="510" cy="7" r="4.7"/><text transform="translate(510 7)rotate(-264)">Cardiobacterium-hominis</text></g>
<g id="b267" transform="rotate(267 510 150)"><circle class="ga" cx="510" cy="7" r="4.7"/><text transform="translate(510 7)rotate(-267)">Haemophilus-parainfluenzae</text></g>
<g id="b270" transform="rotate(270 510 150)"><circle class="ga" cx="510" cy="7" r="4.7"/><text transform="translate(510 7)rotate(-270)">Haemophilus-parahaemolyticus</text></g>
<g id="b273" transform="rotate(273 510 150)"><circle class="ga" cx="510" cy="7" r="4.7"/><text transform="translate(510 7)rotate(-273)">Pasteurellaceae</text></g>
<g id="b276" transform="rotate(276 510 150)"><circle class="ga" cx="510" cy="7" r="4.7"/><text transform="translate(510 7)rotate(-276)">Aggregatibacter-aphrophilus</text></g>
<g id="b279" transform="rotate(279 510 150)"><circle class="ga" cx="510" cy="7" r="4.7"/><text transform="translate(510 7)rotate(-279)">Aggregatibacter-segnis</text></g>
<g id="b282" transform="rotate(282 510 150)"><circle class="fu" cx="510" cy="7" r="4.7"/><text transform="translate(510 7)rotate(-282)">Leptotrichiales</text></g>
<g id="b285" transform="rotate(285 510 150)"><circle class="fu" cx="510" cy="7" r="4.7"/><text transform="translate(510 7)rotate(-285)">Leptotrichia</text></g>
<g id="b288" transform="rotate(288 510 150)"><circle class="fu" cx="510" cy="7" r="4.7"/><text transform="translate(510 7)rotate(-288)">Leptotrichiaceae</text></g>
<g id="b291" transform="rotate(291 510 150)"><circle class="fu" cx="510" cy="7" r="4.7"/><text transform="translate(510 7)rotate(-291)">Fusobacteriaceae</text></g>
<g id="b294" transform="rotate(294 510 150)"><circle class="fu" cx="510" cy="7" r="4.7"/><text transform="translate(510 7)rotate(-294)">Fusobacteriales</text></g>
<g id="b297" transform="rotate(297 510 150)"><circle class="fu" cx="510" cy="7" r="4.7"/><text transform="translate(510 7)rotate(-297)">Fusobacterium</text></g>
<g id="b300" transform="rotate(300 510 150)"><circle class="fu" cx="510" cy="7" r="4.7"/><text transform="translate(510 7)rotate(-300)">Fusobacteriia</text></g>
<g id="b303" transform="rotate(303 510 150)"><circle class="bt" cx="510" cy="7" r="4.7"/><text transform="translate(510 7)rotate(-303)">Bergeyella</text></g>
<g id="b306" transform="rotate(306 510 150)"><circle class="bt" cx="510" cy="7" r="4.7"/><text transform="translate(510 7)rotate(-306)">Flavobacteriia</text></g>
<g id="b309" transform="rotate(309 510 150)"><circle class="bt" cx="510" cy="7" r="4.7"/><text transform="translate(510 7)rotate(-309)">Capnocytophaga-granulosa</text></g>
<g id="b312" transform="rotate(312 510 150)"><circle class="bt" cx="510" cy="7" r="4.7"/><text transform="translate(510 7)rotate(-312)">Flavobacteriales</text></g>
<g id="b315" transform="rotate(315 510 150)"><circle class="bt" cx="510" cy="7" r="4.7"/><text transform="translate(510 7)rotate(-315)">Capnocytophaga-sputigena</text></g>
<g id="b318" transform="rotate(318 510 150)"><circle class="bt" cx="510" cy="7" r="4.7"/><text transform="translate(510 7)rotate(-318)">Capnocytophaga-leadbetteri</text></g>
<g id="b321" transform="rotate(321 510 150)"><circle class="bt" cx="510" cy="7" r="4.7"/><text transform="translate(510 7)rotate(-321)">Flavobacteriaceae</text></g>
<g id="b324" transform="rotate(324 510 150)"><circle class="bt" cx="510" cy="7" r="4.7"/><text transform="translate(510 7)rotate(-324)">Capnocytophaga</text></g>
<g id="b327" transform="rotate(327 510 150)"><circle class="ep" cx="510" cy="7" r="4.7"/><text transform="translate(510 7)rotate(-327)">Campylobacteraceae</text></g>
<g id="b330" transform="rotate(330 510 150)"><circle class="ep" cx="510" cy="7" r="4.7"/><text transform="translate(510 7)rotate(-330)">Campylobacter</text></g>
<g id="b333" transform="rotate(333 510 150)"><circle class="ep" cx="510" cy="7" r="4.7"/><text transform="translate(510 7)rotate(-333)">Campylobacterales</text></g>
<g id="b336" transform="rotate(336 510 150)"><circle class="co" cx="510" cy="7" r="4.7"/><text transform="translate(510 7)rotate(-336)">Coriobacteriia</text></g>
<g id="b339" transform="rotate(339 510 150)"><circle class="co" cx="510" cy="7" r="4.7"/><text transform="translate(510 7)rotate(-339)">Coriobacteriales</text></g>
<g id="b342" transform="rotate(342 510 150)"><circle class="co" cx="510" cy="7" r="4.7"/><text transform="translate(510 7)rotate(-342)">Coriobacteriaceae</text></g>
<g id="b345" transform="rotate(345 510 150)"><circle class="co" cx="510" cy="7" r="4.7"/><text transform="translate(510 7)rotate(-345)">Atopobium</text></g>
<g id="b348" transform="rotate(348 510 150)"><circle class="cl" cx="510" cy="7" r="4.7"/><text transform="translate(510 7)rotate(-348)">Clostridia</text></g>
<g id="b351" transform="rotate(351 510 150)"><circle class="cl" cx="510" cy="7" r="4.7"/><text transform="translate(510 7)rotate(-351)">Clostridiales</text></g>
<g id="b354" transform="rotate(354 510 150)"><circle class="cl" cx="510" cy="7" r="4.7"/><text transform="translate(510 7)rotate(-354)">Lachnospiraceae</text></g>
<g id="b357" transform="rotate(357 510 150)"><circle class="cl" cx="510" cy="7" r="4.7"/><text transform="translate(510 7)rotate(-357)">Lachnospiraceae_XIV</text></g>
</g>

<g id="legend" class="lg">
<text class="lt" x="351" y="304" style="dominant-baseline:auto">Legend</text>
<rect class="ac" x="353" y="311" width="17" height="17" rx="3"/><text x="372" y="319.5">Actinobacteria</text>
<rect class="a1" x="353" y="337.5" width="17" height="17" rx="3"/><text x="372" y="346">Actinobacteria 1</text>
<rect class="ba" x="353" y="364" width="17" height="17" rx="3"/><text x="372" y="372.5">Bacilli</text>
<rect class="be" x="353" y="390.5" width="17" height="17" rx="3"/><text x="372" y="399">Betaproteobacteria</text>
<rect class="cl" x="353" y="417" width="17" height="17" rx="3"/><text x="372" y="425.5">Clostridia</text>
<rect class="co" x="353" y="443.5" width="17" height="17" rx="3"/><text x="372" y="452">Coriobacteria</text>
<rect class="ep" x="472" y="313.5" width="17" height="17" rx="3"/><text x="493" y="322">Epsilonproteobacteria</text>
<rect class="fu" x="472" y="340" width="17" height="17" rx="3"/><text x="493" y="348.5">Fusobacteria</text>
<rect class="ga" x="472" y="366.5" width="17" height="17" rx="3"/><text x="493" y="375">Gammaproteobacteria</text>
<rect class="ne" x="472" y="393" width="17" height="17" rx="3"/><text x="493" y="401.5">Negativicutes</text>
<rect class="sa" x="472" y="419.5" width="17" height="17" rx="3"/><text x="493" y="428">Saccharibacteria_TM7_C-1</text>
<rect class="un" x="472" y="446" width="17" height="17" rx="3"/><text x="493" y="454.5">Unclassified</text>
</g>
</svg>
